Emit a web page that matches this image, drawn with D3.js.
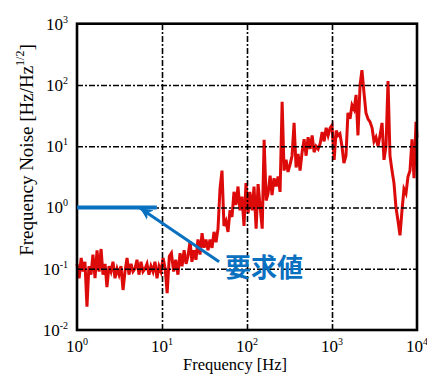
<!DOCTYPE html>
<html>
<head>
<meta charset="utf-8">
<script src="https://cdn.jsdelivr.net/npm/d3@7"></script>
<style>
	body { margin: 0; background: #fff; }
	text { font-family: 'Liberation Serif', 'Times New Roman', serif; fill: #000; }
</style>
</head>
<body>
<div id="chart"></div>
<script>
const freq = [
	1.00, 1.06, 1.12, 1.18, 1.24, 1.31, 1.38, 1.46, 1.54, 1.63, 1.72, 1.82, 1.92, 2.02, 2.14, 2.25, 2.38, 2.51, 2.65, 2.80, 2.96, 3.12,
	3.29, 3.48, 3.67, 3.88, 4.09, 4.32, 4.56, 4.81, 5.08, 5.36, 5.66, 5.98, 6.31, 6.66, 7.03, 7.42, 7.84, 8.27, 8.73, 9.22, 9.73,
	10.3, 10.9, 11.5, 12.2, 12.9, 13.7, 14.5, 15.4, 16.3, 17.2, 18.2, 19.2, 20.2, 21.4, 22.5, 23.8, 25.1, 26.5, 28.0, 29.6, 31.2,
	32.9, 34.8, 36.7, 38.8, 40.9, 43.2, 45.6, 48.1, 50.8, 53.6, 56.6, 59.8, 63.1, 66.6, 70.3, 74.2, 78.4, 82.7, 87.3, 92.2, 97.3,
	103, 108, 115, 121, 128, 135, 143, 151, 159, 168, 177, 187, 197, 208, 220, 232, 245, 259, 273, 288, 304,
	321, 339, 358, 378, 399, 421, 445, 470, 496, 523, 553, 584, 616, 650, 687, 725, 766, 808, 854, 901, 952,
	1000, 1060, 1120, 1180, 1240, 1310, 1380, 1460, 1540, 1630, 1720, 1820, 1920, 2020, 2140, 2250, 2380, 2510, 2650, 2800, 2960, 3120,
	3290, 3480, 3670, 3880, 4090, 4320, 4560, 4810, 5080, 5360, 5660, 5980, 6310, 6660, 7030, 7420, 7840, 8270, 8730, 9220, 9730, 10000
];
const noise = [
	0.12, 0.07, 0.15, 0.09, 0.13, 0.024, 0.11, 0.08, 0.17, 0.07, 0.2, 0.09, 0.21, 0.08, 0.12, 0.05, 0.11, 0.09, 0.13, 0.07, 0.1, 0.08,
	0.11, 0.045, 0.09, 0.15, 0.08, 0.12, 0.09, 0.1, 0.14, 0.08, 0.13, 0.09, 0.1, 0.12, 0.08, 0.11, 0.09, 0.13, 0.07, 0.11, 0.09,
	0.15, 0.1, 0.04, 0.16, 0.18, 0.09, 0.14, 0.08, 0.18, 0.11, 0.2, 0.12, 0.16, 0.28, 0.13, 0.2, 0.14, 0.3, 0.17, 0.38, 0.22,
	0.3, 0.2, 0.3, 0.22, 0.4, 0.27, 0.45, 2.0, 4.0, 0.5, 0.6, 0.4, 0.9, 0.7, 1.8, 1.1, 2.2, 0.9, 1.5, 0.5, 2.5,
	0.8, 1.8, 0.9, 2.2, 0.45, 2.4, 1.0, 0.45, 12.7, 1.3, 1.7, 3.3, 1.6, 3.0, 2.2, 3.2, 1.8, 53, 4, 6, 3.8,
	5, 7, 24, 4.5, 7.5, 4, 8, 13, 7, 14, 9, 15, 8, 10, 9, 11, 17, 12, 20, 15, 20,
	22, 6, 18, 15, 16, 10, 5.3, 7, 35, 28, 47, 40, 69, 15, 100, 175, 74, 35, 28, 25, 20, 12,
	14, 10, 15, 24, 6, 10, 116, 7, 4, 2.5, 1.0, 0.6, 0.35, 0.9, 2.0, 1.7, 3.2, 4, 13, 3, 25, 14
];
const xTicks = [1, 10, 100, 1000, 10000];
const xExp = ['0', '1', '2', '3', '4'];
const yTicks = [0.01, 0.1, 1, 10, 100, 1000];
const yExp = ['-2', '-1', '0', '1', '2', '3'];

// requirement annotation (要求値)
const reqLevel = 1;
const reqRange = [1, 8.7];
const arrowTail = [47, 0.13];
const arrowHead = [5.5, 0.98];
const reqLabel = '要求値';

const margin = { top: 23.7, right: 10, bottom: 44, left: 77 };
const W = 427, H = 374;
const width = W - margin.left - margin.right;
const height = H - margin.top - margin.bottom;

const svg = d3.select('#chart').append('svg').attr('width', W).attr('height', H);
const g = svg.append('g').attr('transform', 'translate(' + margin.left + ',' + margin.top + ')');

const x = d3.scaleLog().domain([1, 1e4]).range([0, width]);
const y = d3.scaleLog().domain([1e-2, 1e3]).range([height, 0]);

// data
const data = freq.map((f, i) => ({ f: f, v: noise[i] }));
const line = d3.line().x(d => x(d.f)).y(d => y(d.v));
g.append('path')
	.datum(data)
	.attr('d', line)
	.attr('fill', 'none')
	.attr('stroke', '#dd0a0a')
	.attr('stroke-width', 3)
	.attr('stroke-linejoin', 'miter');

// grid
const gridX = g.append('g')
	.attr('transform', 'translate(0,' + height + ')')
	.call(d3.axisBottom(x).tickValues(xTicks.slice(1, -1)).tickSize(-height).tickFormat(''));
const gridY = g.append('g')
	.call(d3.axisLeft(y).tickValues(yTicks.slice(1, -1)).tickSize(-width).tickFormat(''));
[gridX, gridY].forEach(gr => {
	gr.select('.domain').remove();
	gr.selectAll('line')
		.attr('stroke', '#000')
		.attr('stroke-width', 1.6)
		.attr('stroke-dasharray', '6,2,2,2');
});

// frame
g.append('rect')
	.attr('width', width)
	.attr('height', height)
	.attr('fill', 'none')
	.attr('stroke', '#000')
	.attr('stroke-width', 2.6);

// tick labels
const xl = g.append('g').selectAll('text').data(xTicks).enter().append('text')
	.attr('x', d => x(d))
	.attr('y', height + 22)
	.attr('text-anchor', 'middle')
	.style('font-size', '17px');
xl.append('tspan').text('10');
xl.append('tspan').attr('dy', -7).style('font-size', '10px').text((d, i) => xExp[i]);

const yl = g.append('g').selectAll('text').data(yTicks).enter().append('text')
	.attr('x', -9)
	.attr('y', d => y(d) + 6)
	.attr('text-anchor', 'end')
	.style('font-size', '17px');
yl.append('tspan').text('10');
yl.append('tspan').attr('dy', -7).style('font-size', '10px').text((d, i) => yExp[i]);

// axis titles
svg.append('text')
	.attr('x', 235)
	.attr('y', 370)
	.attr('text-anchor', 'middle')
	.style('font-size', '16.5px')
	.text('Frequency [Hz]');

const yt = svg.append('text')
	.attr('transform', 'translate(33,150) rotate(-90)')
	.attr('text-anchor', 'middle')
	.style('font-size', '19px');
yt.append('tspan').text('Frequency Noise [Hz/Hz');
yt.append('tspan').attr('dy', -9).style('font-size', '12px').text('1/2');
yt.append('tspan').attr('dy', 9).text(']');

// annotation
const blue = '#0a70c0';
svg.append('defs').append('marker')
	.attr('id', 'head')
	.attr('viewBox', '-12 -7 14 14')
	.attr('refX', 0)
	.attr('refY', 0)
	.attr('markerWidth', 14)
	.attr('markerHeight', 14)
	.attr('markerUnits', 'userSpaceOnUse')
	.attr('orient', 'auto')
	.append('path')
	.attr('d', 'M0,0 L-13,-6 L-9,0 L-13,6 Z')
	.attr('fill', blue);

g.append('line')
	.attr('x1', x(reqRange[0]))
	.attr('x2', x(reqRange[1]))
	.attr('y1', y(reqLevel))
	.attr('y2', y(reqLevel))
	.attr('stroke', blue)
	.attr('stroke-width', 4);

g.append('line')
	.attr('x1', x(arrowTail[0]))
	.attr('y1', y(arrowTail[1]))
	.attr('x2', x(arrowHead[0]))
	.attr('y2', y(arrowHead[1]))
	.attr('stroke', blue)
	.attr('stroke-width', 3)
	.attr('marker-end', 'url(#head)');

svg.append('text')
	.attr('x', 225)
	.attr('y', 277)
	.style('font-family', "'Noto Sans CJK JP', sans-serif")
	.style('font-weight', 'bold')
	.style('font-size', '26px')
	.style('fill', blue)
	.text(reqLabel);
</script>
</body>
</html>
